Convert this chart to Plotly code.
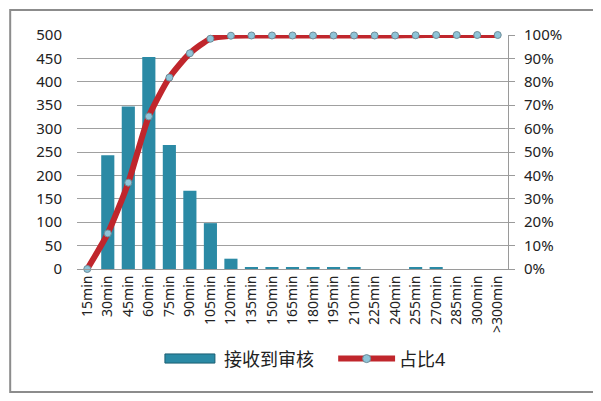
import plotly.graph_objects as go

# categories and values
categories = ["15min", "30min", "45min", "60min", "75min", "90min", "105min",
              "120min", "135min", "150min", "165min", "180min", "195min",
              "210min", "225min", "240min", "255min", "270min", "285min",
              "300min", ">300min"]
counts = [0, 243, 347, 453, 265, 167, 98, 22, 3, 3, 3, 3, 3, 3, 0, 0, 3, 3, 0, 0, 0]
share = [0.0, 0.152, 0.369, 0.652, 0.818, 0.922, 0.984, 0.997, 0.998, 0.998,
         0.998, 0.998, 0.998, 0.998, 0.998, 0.998, 0.999, 1.0, 1.0, 1.0, 1.0]
bar_name = "接收到审核"
line_name = "占比4"

font = "Noto Sans, Noto Sans CJK SC, sans-serif"
bar_color = "#2B8AA5"
line_color = "#C0262C"
dot_color = "#8EC4D8"

fig = go.Figure()

fig.add_trace(go.Bar(
    x=categories, y=counts, name=bar_name,
    marker=dict(color=bar_color, line=dict(width=0)),
    yaxis="y", showlegend=False,
))

fig.add_trace(go.Scatter(
    x=categories, y=share, name=line_name, yaxis="y2",
    mode="lines+markers", showlegend=False, cliponaxis=False,
    line=dict(color=line_color, width=6, shape="spline", smoothing=0.6),
    marker=dict(size=7, color=dot_color, line=dict(color="#6E8C98", width=1)),
))

# hand-drawn legend (wide symbols like the original)
legend_shapes = [
    dict(type="rect", xref="paper", yref="paper", x0=0.204, x1=0.320,
         y0=-0.402, y1=-0.363, fillcolor=bar_color,
         line=dict(color="#1A5E72", width=1)),
    dict(type="line", xref="paper", yref="paper", x0=0.606, x1=0.738,
         y0=-0.383, y1=-0.383, line=dict(color=line_color, width=6)),
    dict(type="circle", xref="paper", yref="paper", xsizemode="pixel",
         ysizemode="pixel", xanchor=0.672, yanchor=-0.383,
         x0=-4, x1=4, y0=-4, y1=4, fillcolor=dot_color,
         line=dict(color="#6E8C98", width=1)),
]
legend_notes = [
    dict(text=bar_name, xref="paper", yref="paper", x=0.337, y=-0.383,
         xanchor="left", yanchor="middle", showarrow=False, font=dict(size=18)),
    dict(text=line_name, xref="paper", yref="paper", x=0.743, y=-0.383,
         xanchor="left", yanchor="middle", showarrow=False, font=dict(size=18)),
]

frame = dict(type="rect", xref="paper", yref="paper",
             x0=-0.155, x1=1.200, y0=-0.526, y1=1.107,
             line=dict(color="#8C8C8C", width=2), layer="below")

fig.update_layout(
    width=590, height=390,
    margin=dict(l=69, r=90, t=27, b=129),
    paper_bgcolor="white", plot_bgcolor="white",
    font=dict(family=font, size=15, color="#222222"),
    bargap=0.36,
    xaxis=dict(type="category", range=[-0.5, len(categories) - 0.5],
               tickangle=-90, showline=True, linecolor="#9A9A9A",
               linewidth=1, ticks="", showgrid=False, tickfont=dict(size=14)),
    yaxis=dict(range=[0, 500], dtick=50, showgrid=True, gridcolor="#A0A0A0",
               gridwidth=1, showline=False, zeroline=False, ticks="",
               ticklabelstandoff=14),
    yaxis2=dict(range=[0, 1], dtick=0.1, tickformat=".0%", overlaying="y",
                side="right", showgrid=False, showline=True, linecolor="#9A9A9A",
                linewidth=1, ticks="outside", ticklen=6, tickcolor="#9A9A9A",
                zeroline=False, ticklabelstandoff=6),
    shapes=[frame] + legend_shapes,
    annotations=legend_notes,
)

fig.write_html("out.html")
